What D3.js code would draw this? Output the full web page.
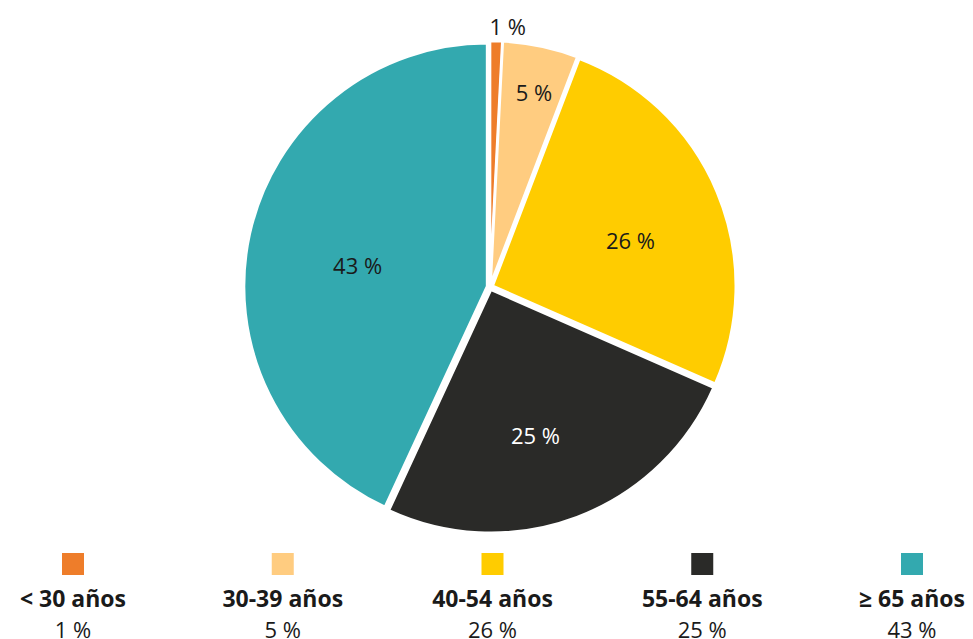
<!DOCTYPE html>
<html>
<head>
<meta charset="utf-8">
<script src="https://cdn.jsdelivr.net/npm/d3@7"></script>
<style>
  body { margin: 0; background: #fff; }
  text { font-family: "Open Sans", "Noto Sans", sans-serif; }
</style>
</head>
<body>
<div id="chart"></div>
<script>

// data
var categories = ["< 30 años", "30-39 años", "40-54 años", "55-64 años", "≥ 65 años"];
var values = [0.8, 5.0, 25.8, 25.3, 43.1];
var valueLabels = ["1 %", "5 %", "26 %", "25 %", "43 %"];
var colors = ["#ee7d2a", "#ffcc80", "#ffcc00", "#2a2a28", "#33a9af"];
var title = "Jefes de explotación agraria según grupos de edad";

var width = 973, height = 639;
var cx = 490, cy = 287, radius = 243, explode = 3;
// small label nudges so they sit where the original put them
var nudge = [[0, 5], [4, -3], [6, 11], [-6, 13], [10, 11]];

var svg = d3.select("#chart")
  .append("svg")
  .attr("width", width)
  .attr("height", height);

// title sits mostly above the frame, like the reference
svg.append("text")
  .attr("x", cx)
  .attr("y", -5)
  .attr("text-anchor", "middle")
  .style("font-size", "20px")
  .style("font-weight", "bold")
  .attr("fill", "#1a1a1a")
  .text(title);

var data = categories.map(function(c, i) {
  return {name: c, value: values[i], label: valueLabels[i], color: colors[i], i: i};
});

var pie = d3.pie().sort(null).value(function(d) { return d.value; });
var arcs = pie(data);

var arc = d3.arc().innerRadius(0).outerRadius(radius);

var g = svg.append("g")
  .attr("transform", "translate(" + cx + "," + cy + ")");

// slices, pushed out a little from the centre
g.selectAll("path")
  .data(arcs)
  .enter()
  .append("path")
  .attr("d", arc)
  .attr("fill", function(d) { return d.data.color; })
  .attr("stroke", "#fff")
  .attr("stroke-width", 2.5)
  .attr("stroke-linejoin", "round")
  .attr("transform", function(d) {
    var a = (d.startAngle + d.endAngle) / 2;
    return "translate(" + (Math.sin(a) * explode) + "," + (-Math.cos(a) * explode) + ")";
  });

// labels inside the slices (the tiny one goes outside)
var total = d3.sum(values);
function labelRadius(d) {
  var share = d.data.value / total;
  if (share < 0.02) return radius + 22;
  if (share < 0.1) return radius * 0.8;
  return radius * 0.6;
}

g.selectAll(".lbl")
  .data(arcs)
  .enter()
  .append("text")
  .attr("class", "lbl")
  .attr("x", function(d) {
    var a = (d.startAngle + d.endAngle) / 2;
    var x = Math.sin(a) * labelRadius(d);
    if (d.data.value / total < 0.02) x += 11;
    return x + nudge[d.data.i][0];
  })
  .attr("y", function(d) {
    var a = (d.startAngle + d.endAngle) / 2;
    return -Math.cos(a) * labelRadius(d) + nudge[d.data.i][1];
  })
  .attr("dy", "0.35em")
  .attr("text-anchor", "middle")
  .style("font-size", "22px")
  .attr("fill", function(d) { return d.data.color == "#2a2a28" ? "#fff" : "#1a1a1a"; })
  .text(function(d) { return d.data.label; });

// legend along the bottom
var lx = d3.scalePoint()
  .domain(categories)
  .range([73, 912]);

var legend = svg.append("g")
  .selectAll("g")
  .data(data)
  .enter()
  .append("g")
  .attr("transform", function(d) { return "translate(" + lx(d.name) + ",0)"; });

legend.append("rect")
  .attr("x", -11)
  .attr("y", 553)
  .attr("width", 22)
  .attr("height", 22)
  .attr("fill", function(d) { return d.color; });

legend.append("text")
  .attr("y", 607)
  .attr("text-anchor", "middle")
  .style("font-size", "23px")
  .style("font-weight", "bold")
  .attr("fill", "#1a1a1a")
  .text(function(d) { return d.name; });

legend.append("text")
  .attr("y", 638)
  .attr("text-anchor", "middle")
  .style("font-size", "22px")
  .attr("fill", "#1a1a1a")
  .text(function(d) { return d.label; });

</script>
</body>
</html>
